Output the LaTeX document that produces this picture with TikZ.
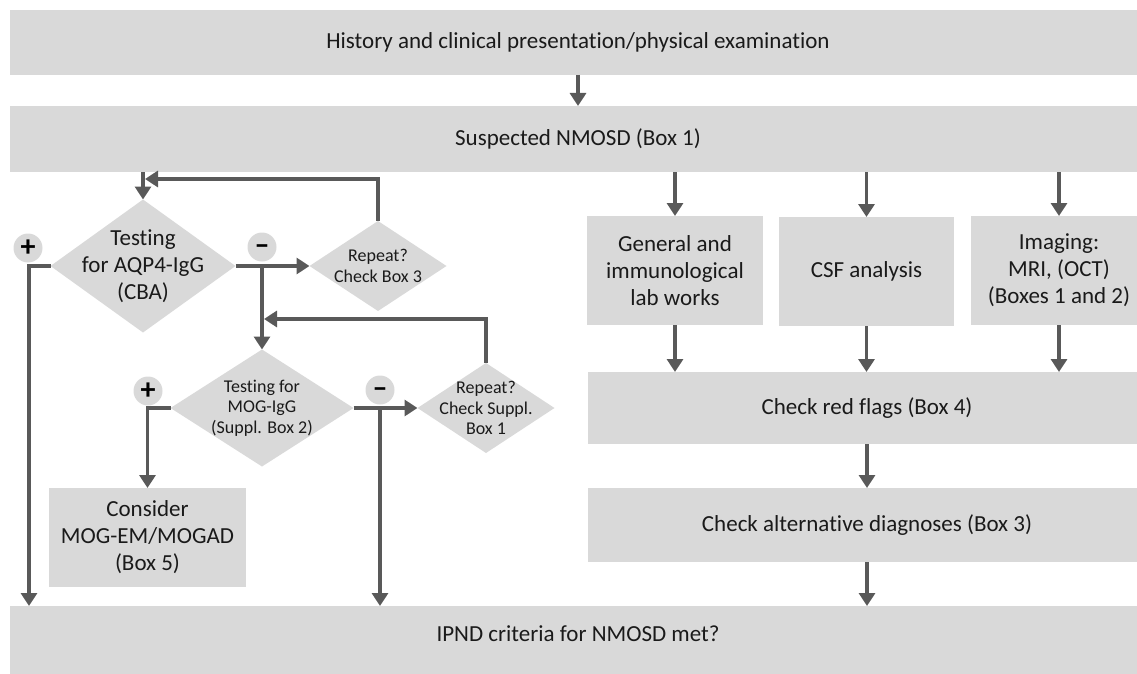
\documentclass[tikz,border=0pt]{standalone}
\usepackage{fontspec}
\setmainfont{Carlito}[Ligatures=NoCommon]
\usetikzlibrary{shapes.geometric,arrows.meta}
\definecolor{boxgray}{HTML}{D9D9D9}
\definecolor{linegray}{HTML}{595959}
\definecolor{txt}{HTML}{1A1A1A}
\begin{document}
\begin{tikzpicture}[x=1pt,y=-1pt,
  big/.style={font=\fontsize{23}{27}\selectfont},
  small/.style={font=\fontsize{18}{20.5}\selectfont},
  box/.style={rectangle, fill=boxgray, draw=none, inner sep=0pt, outer sep=0pt, align=center, text=txt, big},
  dia/.style={diamond, fill=boxgray, draw=none, inner sep=0pt, outer sep=0pt},
  dtext/.style={align=center, text=txt, inner sep=0pt},
  sign/.style={circle, fill=boxgray, minimum size=29pt, inner sep=0pt, text=black, font=\fontsize{30}{30}\selectfont\bfseries},
  arr/.style={draw=linegray, line width=3.2pt, -{Triangle[width=16pt,length=13pt]}},
]
\useasboundingbox (0,0) rectangle (1137,674);
\clip (0,0) rectangle (1137,674);

% wide boxes
\node[box, minimum width=1136pt, minimum height=65pt] (hist) at (578,42.5) {History and clinical presentation/physical examination};
\node[box, minimum width=1136pt, minimum height=66pt] (susp) at (578,139) {Suspected NMOSD (Box 1)};
\node[box, minimum width=1136pt, minimum height=68pt, anchor=north, text height=35pt, text depth=33pt] (ipnd) at (578,606) {IPND criteria for NMOSD met?};

% right column
\node[box, minimum width=176pt, minimum height=109pt] (gen) at (675,270.5) {General and\\immunological\\lab works};
\node[box, minimum width=175pt, minimum height=109pt] (csf) at (866.5,271.5) {CSF analysis};
\node[box, minimum width=176pt, minimum height=109pt] (img) at (1059,270.5) {Imaging:\\MRI, (OCT)\\(Boxes 1 and 2)};
\node[box, minimum width=558pt, minimum height=72pt] (red) at (867,408) {Check red flags (Box 4)};
\node[box, minimum width=558pt, minimum height=74pt] (alt) at (867,525) {Check alternative diagnoses (Box 3)};

% left column
\node[box, minimum width=197pt, minimum height=99pt] (con) at (147.5,537.5) {Consider\\MOG-EM/MOGAD\\(Box 5)};

\node[dia, minimum width=185pt, minimum height=133pt] (aqp) at (143,266) {};
\node[dtext, big] (aqpT) at (aqp.center) {Testing\\for AQP4-IgG\\(CBA)};
\node[dia, minimum width=137pt, minimum height=90pt] (rep1) at (378,266) {};
\node[dtext, small] (rep1T) at (rep1.center) {Repeat?\\Check Box 3};
\node[dia, minimum width=183pt, minimum height=117pt] (mog) at (262,408) {};
\node[dtext, small] (mogT) at (mog.center) {Testing for\\MOG-IgG\\(Suppl. Box 2)};
\node[dia, minimum width=137pt, minimum height=90pt] (rep2) at (486,408) {};
\node[dtext, small] (rep2T) at (rep2.center) {Repeat?\\Check Suppl.\\Box 1};

\node[sign] (p1) at (28,248) {+};
\node[sign] (m1) at (262,247) {\raisebox{-7.5pt}[0pt][0pt]{–}};
\node[sign] (p2) at (148,391) {+};
\node[sign] (m2) at (380,390) {\raisebox{-7.5pt}[0pt][0pt]{–}};

% connectors
\draw[arr] (hist.south) -- (susp.north);
\draw[arr] (susp.south -| aqp.north) -- (aqp.north);
\coordinate (fb1) at (145,179);
\draw[arr] (rep1.north) |- (fb1);
\draw[arr] (aqp.east) -- (rep1.west);
\coordinate (br1) at (262,266);
\draw[arr] (br1) -- (mog.north);
\coordinate (fb2) at (264,319);
\draw[arr] (rep2.north) |- (fb2);
\coordinate (plx) at (29,266);
\draw[arr] (aqp.west) -| (plx |- ipnd.north);
\draw[arr] (mog.west) -| (con.north);
\draw[arr] (mog.east) -- (rep2.west);
\coordinate (br2) at (380,408);
\draw[arr] (br2) -- (br2 |- ipnd.north);

\draw[arr] (susp.south -| gen.north) -- (gen.north);
\draw[arr] (susp.south -| csf.north) -- (csf.north);
\draw[arr] (susp.south -| img.north) -- (img.north);
\draw[arr] (gen.south) -- (gen.south |- red.north);
\draw[arr] (csf.south) -- (csf.south |- red.north);
\draw[arr] (img.south) -- (img.south |- red.north);
\draw[arr] (red.south) -- (alt.north);
\draw[arr] (alt.south) -- (alt.south |- ipnd.north);
\end{tikzpicture}
\end{document}
